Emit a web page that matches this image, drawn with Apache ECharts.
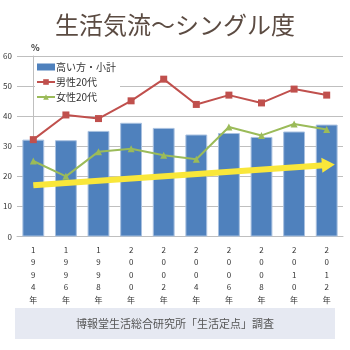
<!DOCTYPE html>
<html>
<head>
<meta charset="utf-8">
<script src="https://cdn.jsdelivr.net/npm/echarts@6/dist/echarts.min.js"></script>
<style>
  html, body { margin: 0; padding: 0; background: #fff; }
  #chart { width: 350px; height: 350px; }
</style>
</head>
<body>
<div id="chart"></div>
<script>
// 年度（縦書き表示）
var years = ['1994', '1996', '1998', '2000', '2002', '2004', '2006', '2008', '2010', '2012'];
// 高い方・小計
var subtotal = [32.2, 32.0, 35.1, 37.8, 36.1, 33.9, 34.4, 33.1, 34.9, 37.2];
// 男性20代
var male20 = [32.2, 40.4, 39.2, 45.1, 52.3, 43.9, 47.0, 44.4, 49.0, 47.0];
// 女性20代
var female20 = [25.1, 20.0, 28.2, 29.2, 27.0, 25.7, 36.4, 33.6, 37.4, 35.6];
// 傾向矢印（始点・終点： [カテゴリ位置, 値]）
var trendStart = [0, 17];
var trendEnd = [9.05, 23.8];
var yTicks = [0, 10, 20, 30, 40, 50, 60];

var chart = echarts.init(document.getElementById('chart'));
var font = '"Noto Sans CJK JP", sans-serif';
var option = {
  animation: false,
  textStyle: { fontFamily: font },
  title: [{
    text: '生活気流～シングル度',
    left: 'center',
    top: 8,
    textStyle: { fontSize: 24, fontWeight: 'normal', color: '#5b4b42', fontFamily: font }
  }, {
    text: '%',
    left: 26,
    top: 38,
    textStyle: { fontSize: 9, fontWeight: 'bold', color: '#333', fontFamily: font }
  }],
  graphic: [{
    type: 'rect',
    left: 15,
    top: 308,
    shape: { width: 320, height: 31 },
    style: { fill: '#e6e9f2' },
    z: 0
  }, {
    type: 'text',
    x: 175,
    y: 324,
    style: { text: '博報堂生活総合研究所「生活定点」調査', fill: '#555', font: '11px ' + font, align: 'center', verticalAlign: 'middle' },
    z: 1
  }],
  legend: {
    orient: 'vertical',
    left: 35,
    top: 60,
    itemGap: 5,
    itemWidth: 18,
    itemHeight: 7,
    backgroundColor: '#fff',
    padding: [2, 4, 2, 1],
    textStyle: { fontSize: 10, color: '#333', fontFamily: font, padding: [0, 0, 0, -4] },
    data: [
      { name: '高い方・小計', icon: 'rect', itemStyle: { borderWidth: 0 } },
      '男性20代',
      '女性20代'
    ]
  },
  grid: { left: 17, right: 7, top: 56, bottom: 113.5 },
  xAxis: [{
    type: 'category',
    data: years,
    axisLine: { lineStyle: { color: '#bfbfbf' } },
    axisTick: { show: false },
    axisLabel: {
      fontSize: 8,
      color: '#333',
      lineHeight: 12.5,
      margin: 7,
      formatter: function (v) { return v.split('').join('\n') + '\n年'; }
    }
  }, {
    type: 'value',
    min: -0.5,
    max: 9.5,
    show: false
  }],
  yAxis: {
    type: 'value',
    min: 0,
    max: 60,
    interval: 10,
    axisLine: { show: true, lineStyle: { color: '#bfbfbf' } },
    axisTick: { show: false },
    axisLabel: {
      fontSize: 8, color: '#333', margin: 5,
      formatter: function (v) { return yTicks.indexOf(v) >= 0 ? v : ''; }
    },
    splitLine: { lineStyle: { color: '#bfbfbf', width: 1 } }
  },
  series: [{
    name: '高い方・小計',
    type: 'bar',
    data: subtotal,
    barCategoryGap: '33%',
    itemStyle: { color: '#4f81bd', borderColor: '#a9c1e0', borderWidth: 1 }
  }, {
    name: '男性20代',
    type: 'line',
    data: male20,
    symbol: 'rect',
    symbolSize: 7,
    lineStyle: { color: '#c0504d', width: 2 },
    itemStyle: { color: '#c0504d' }
  }, {
    name: '女性20代',
    type: 'line',
    data: female20,
    symbol: 'triangle',
    symbolSize: 7,
    lineStyle: { color: '#9bbb59', width: 2 },
    itemStyle: { color: '#9bbb59' }
  }, {
    name: 'trend',
    type: 'line',
    xAxisIndex: 1,
    data: [],
    silent: true,
    markLine: {
      silent: true,
      symbol: ['none', 'triangle'],
      symbolSize: [15, 13],
      label: { show: false },
      lineStyle: { color: '#f9e73a', width: 6, type: 'solid' },
      data: [[{ coord: trendStart }, { coord: trendEnd }]]
    }
  }]
};
chart.setOption(option);
</script>
</body>
</html>
